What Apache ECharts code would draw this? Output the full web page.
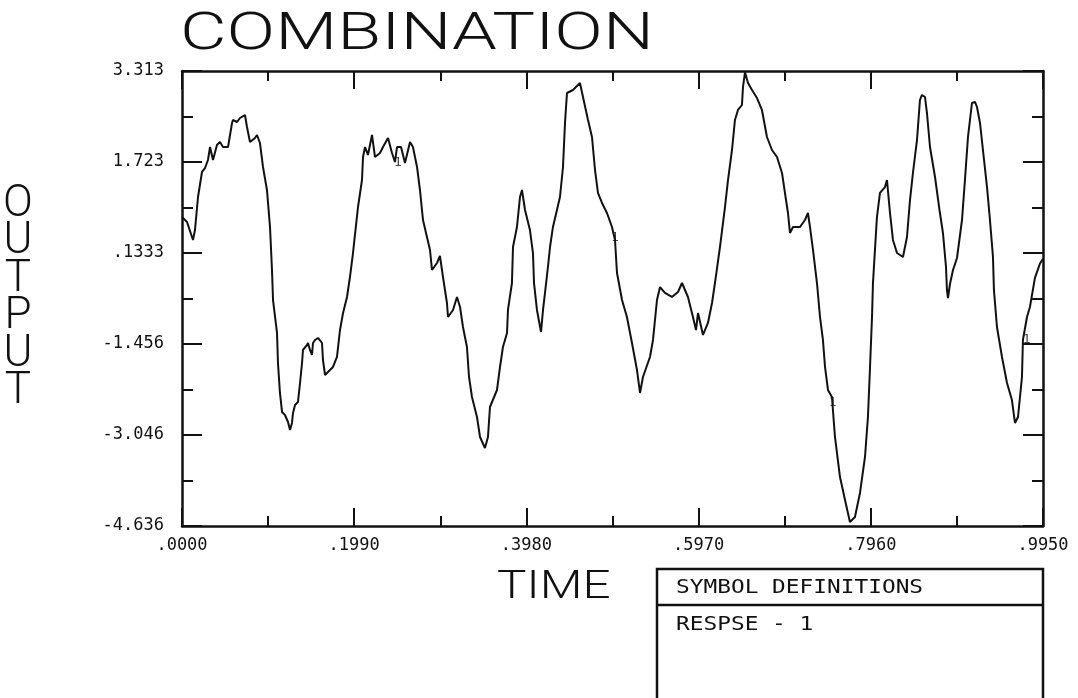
<!DOCTYPE html>
<html>
<head>
<meta charset="utf-8">
<script src="https://cdn.jsdelivr.net/npm/echarts@6/dist/echarts.min.js"></script>
<style>
html,body{margin:0;padding:0;background:#fff;}
#chart{width:1078px;height:698px;}
</style>
</head>
<body>
<div id="chart"></div>
<script>
// ---- data ----
const titleText = 'COMBINATION';
const xAxisTitle = 'TIME';
const yAxisTitle = 'OUTPUT';
const legendHeader = 'SYMBOL DEFINITIONS';
const legendEntry = 'RESPSE - 1';
const seriesName = 'RESPSE';
const symbolLabel = '1';

const xTickValues = [0, 0.199, 0.398, 0.597, 0.796, 0.995];
const xTickLabels = ['.0000', '.1990', '.3980', '.5970', '.7960', '.9950'];
const yTickValues = [-4.636, -3.046, -1.456, 0.1333, 1.723, 3.313];
const yTickLabels = ['-4.636', '-3.046', '-1.456', '.1333', '1.723', '3.313'];

const timeValues = [0.000,0.0058,0.0127,0.0150,0.0185,0.0231,0.0266,0.0300,0.0324,0.0358,
0.0404,0.0439,0.0474,0.0532,0.0578,0.0589,0.0636,0.0670,0.0728,0.0751,
0.0786,0.0844,0.0867,0.0901,0.0936,0.0982,0.1017,0.1040,0.1052,0.1098,
0.1109,0.1132,0.1156,0.1190,0.1225,0.1248,0.1271,0.1283,0.1306,0.1340,
0.1364,0.1387,0.1398,0.1445,0.1456,0.1479,0.1502,0.1514,0.1537,0.1572,
0.1618,0.1629,0.1653,0.1687,0.1745,0.1791,0.1826,0.1861,0.1907,0.1941,
0.1976,0.2034,0.2080,0.2092,0.2115,0.2149,0.2196,0.2230,0.2288,0.2323,
0.2381,0.2427,0.2461,0.2485,0.2531,0.2577,0.2635,0.2669,0.2716,0.2750,
0.2785,0.2831,0.2866,0.2889,0.2947,0.2981,0.3016,0.3062,0.3074,0.3132,
0.3178,0.3213,0.3247,0.3293,0.3317,0.3351,0.3409,0.3444,0.3501,0.3536,
0.3559,0.3640,0.3675,0.3709,0.3756,0.3767,0.3813,0.3825,0.3871,0.3906,
0.3929,0.3964,0.4021,0.4056,0.4068,0.4102,0.4149,0.4172,0.4195,0.4229,
0.4253,0.4287,0.4368,0.4403,0.4426,0.4449,0.4518,0.4599,0.4634,0.4692,
0.4738,0.4773,0.4807,0.4854,0.4911,0.4969,0.5004,0.5027,0.5085,0.5142,
0.5200,0.5258,0.5293,0.5327,0.5408,0.5443,0.5489,0.5524,0.5581,0.5662,
0.5732,0.5778,0.5847,0.5905,0.5940,0.5963,0.6021,0.6078,0.6125,0.6159,
0.6217,0.6275,0.6310,0.6356,0.6390,0.6425,0.6471,0.6483,0.6506,0.6541,
0.6587,0.6645,0.6702,0.6760,0.6818,0.6876,0.6934,0.6968,0.7003,0.7026,
0.7061,0.7142,0.7199,0.7234,0.7257,0.7292,0.7338,0.7373,0.7407,0.7431,
0.7465,0.7511,0.7546,0.7604,0.7662,0.7719,0.7777,0.7835,0.7893,0.7927,
0.7951,0.7974,0.7985,0.8031,0.8066,0.8124,0.8147,0.8182,0.8216,0.8263,
0.8332,0.8378,0.8413,0.8447,0.8494,0.8528,0.8551,0.8586,0.8609,0.8644,
0.8702,0.8759,0.8794,0.8829,0.8840,0.8852,0.8875,0.8910,0.8956,0.9014,
0.9048,0.9083,0.9129,0.9164,0.9187,0.9222,0.9256,0.9303,0.9337,0.9372,
0.9383,0.9418,0.9476,0.9534,0.9591,0.9626,0.9661,0.9707,0.9718,0.9765,0.9799,
0.9857,0.9915,0.9950];

const outputValues = [0.762,0.675,0.361,0.535,1.112,1.549,1.618,1.758,1.985,1.758,
2.020,2.073,1.985,1.985,2.405,2.457,2.422,2.492,2.544,2.335,
2.073,2.143,2.195,2.055,1.636,1.234,0.588,-0.164,-0.688,-1.264,
-1.788,-2.312,-2.644,-2.697,-2.819,-2.959,-2.836,-2.662,-2.522,-2.470,
-2.138,-1.788,-1.561,-1.474,-1.439,-1.561,-1.648,-1.439,-1.386,-1.351,
-1.439,-1.736,-1.998,-1.945,-1.858,-1.683,-1.212,-0.915,-0.635,-0.286,
0.133,0.937,1.409,1.811,1.985,1.846,2.195,1.811,1.880,1.985,
2.143,1.880,1.723,1.985,1.985,1.706,2.073,1.985,1.636,1.234,
0.710,0.413,0.186,-0.164,-0.041,0.081,-0.286,-0.740,-0.985,-0.862,
-0.635,-0.810,-1.159,-1.509,-2.033,-2.382,-2.732,-3.081,-3.273,-3.081,
-2.557,-2.260,-1.858,-1.509,-1.264,-0.862,-0.391,0.238,0.588,1.112,
1.234,0.885,0.535,0.133,-0.391,-0.862,-1.247,-0.862,-0.565,-0.111,
0.238,0.588,1.112,1.636,2.405,2.929,2.981,3.103,2.859,2.457,
2.160,1.583,1.182,1.007,0.832,0.588,0.361,-0.216,-0.688,-0.985,
-1.439,-1.911,-2.312,-2.033,-1.683,-1.386,-0.688,-0.461,-0.565,-0.635,
-0.548,-0.391,-0.635,-0.985,-1.212,-0.915,-1.299,-1.089,-0.740,-0.391,
0.238,0.937,1.409,1.933,2.457,2.632,2.719,3.033,3.290,3.103,
2.981,2.841,2.632,2.160,1.933,1.811,1.531,1.182,0.832,0.483,
0.588,0.588,0.710,0.832,0.588,0.186,-0.391,-0.985,-1.386,-1.858,
-2.260,-2.382,-3.081,-3.780,-4.182,-4.566,-4.479,-4.059,-3.430,-2.732,
-1.858,-0.985,-0.391,0.762,1.182,1.286,1.409,0.832,0.361,0.133,
0.064,0.413,1.059,1.531,2.108,2.806,2.894,2.859,2.579,1.985,
1.461,0.832,0.483,-0.111,-0.513,-0.653,-0.408,-0.164,0.046,0.710,
1.409,2.160,2.754,2.772,2.684,2.405,1.933,1.286,0.710,0.064,
-0.513,-1.159,-1.683,-2.138,-2.435,-2.836,-2.732,-2.033,-1.386,-0.985,-0.810,
-0.300,-0.050,0.030];

// positions of the "1" symbols written on the curve
const symbolTimes = [0.2496, 0.5004, 0.7519, 0.9761];
const symbolValues = [1.706, 0.395, -2.487, -1.386];

// ---- chart ----
const ink = '#111';
const monoFont = '"DejaVu Sans Mono", "Liberation Mono", monospace';
const sansFont = 'Roboto, "DejaVu Sans", sans-serif';

const xMin = xTickValues[0], xMax = xTickValues[xTickValues.length - 1];
const yMin = yTickValues[0], yMax = yTickValues[yTickValues.length - 1];
const mids = arr => arr.slice(1).map((v, i) => (v + arr[i]) / 2);
const xMinorValues = mids(xTickValues);
const yMinorValues = mids(yTickValues);

function pickLabel(values, labels) {
  return function (v) {
    let best = 0;
    for (let i = 1; i < values.length; i++) {
      if (Math.abs(values[i] - v) < Math.abs(values[best] - v)) best = i;
    }
    return labels[best];
  };
}

const lineStyle = { color: ink, width: 2.5 };
const tickStyle = { color: ink, width: 2 };

function makeX(position, ticks, len, showLine, withLabels) {
  return {
    type: 'value', position: position, min: xMin, max: xMax,
    axisLine: { show: showLine, onZero: false, lineStyle: lineStyle },
    axisTick: { show: true, inside: true, length: len, customValues: ticks, lineStyle: tickStyle },
    axisLabel: withLabels ? {
      show: true, customValues: xTickValues, formatter: pickLabel(xTickValues, xTickLabels),
      margin: 11, fontFamily: monoFont, fontSize: 17, color: ink
    } : { show: false },
    splitLine: { show: false }
  };
}
function makeY(position, ticks, len, showLine, withLabels) {
  const ax = {
    type: 'value', position: position, min: yMin, max: yMax,
    axisLine: { show: showLine, onZero: false, lineStyle: lineStyle },
    axisTick: { show: true, inside: true, length: len, customValues: ticks, lineStyle: tickStyle },
    axisLabel: withLabels ? {
      show: true, customValues: yTickValues, formatter: pickLabel(yTickValues, yTickLabels),
      margin: 18, fontFamily: monoFont, fontSize: 17, color: ink
    } : { show: false },
    splitLine: { show: false }
  };
  if (withLabels) {
    ax.name = yAxisTitle.split('').join('\n');
    ax.nameLocation = 'middle';
    ax.nameRotate = 0;
    ax.nameGap = 164;
    ax.nameTextStyle = {
      fontFamily: sansFont, fontWeight: 300, fontSize: 44, lineHeight: 37.5,
      color: ink, align: 'center', verticalAlign: 'middle'
    };
  }
  return ax;
}

const chart = echarts.init(document.getElementById('chart'));
chart.setOption({
  backgroundColor: '#fff',
  animation: false,
  grid: { left: 182, right: 35, top: 71, bottom: 172, containLabel: false, outerBoundsMode: 'none' },
  xAxis: [
    makeX('bottom', xTickValues, 18, true, true),
    makeX('bottom', xMinorValues, 10, false, false),
    makeX('top', xTickValues, 18, true, false),
    makeX('top', xMinorValues, 10, false, false)
  ],
  yAxis: [
    makeY('left', yTickValues, 20, true, true),
    makeY('left', yMinorValues, 11, false, false),
    makeY('right', yTickValues, 20, true, false),
    makeY('right', yMinorValues, 11, false, false)
  ],
  series: [
    {
      name: seriesName, type: 'line', xAxisIndex: 0, yAxisIndex: 0,
      data: timeValues.map((t, i) => [t, outputValues[i]]),
      showSymbol: false, symbol: 'none', smooth: false,
      lineStyle: { color: ink, width: 2 }, silent: true
    },
    {
      name: seriesName + ' symbols', type: 'scatter', xAxisIndex: 0, yAxisIndex: 0,
      data: symbolTimes.map((t, i) => [t, symbolValues[i]]),
      symbolSize: 1, itemStyle: { color: 'rgba(0,0,0,0)' },
      label: { show: true, position: 'inside', formatter: symbolLabel,
               fontFamily: monoFont, fontSize: 13, color: ink }
    }
  ],
  graphic: [
    { type: 'text', x: 180, y: 36, scaleX: 1.38,
      style: { text: titleText, font: '300 52px ' + sansFont, fill: ink, align: 'left', verticalAlign: 'middle' } },
    { type: 'text', x: 497, y: 588, scaleX: 1.3,
      style: { text: xAxisTitle, font: '300 38px ' + sansFont, fill: ink, align: 'left', verticalAlign: 'middle' } },
    { type: 'rect', shape: { x: 657, y: 569, width: 386, height: 140 },
      style: { fill: 'none', stroke: ink, lineWidth: 2.5 } },
    { type: 'line', shape: { x1: 657, y1: 605, x2: 1043, y2: 605 },
      style: { stroke: ink, lineWidth: 2.5 } },
    { type: 'text', x: 676, y: 588, scaleX: 1.2,
      style: { text: legendHeader, font: '19px ' + monoFont, fill: ink, align: 'left', verticalAlign: 'middle' } },
    { type: 'text', x: 676, y: 625, scaleX: 1.2,
      style: { text: legendEntry, font: '19px ' + monoFont, fill: ink, align: 'left', verticalAlign: 'middle' } }
  ]
});
</script>
</body>
</html>
